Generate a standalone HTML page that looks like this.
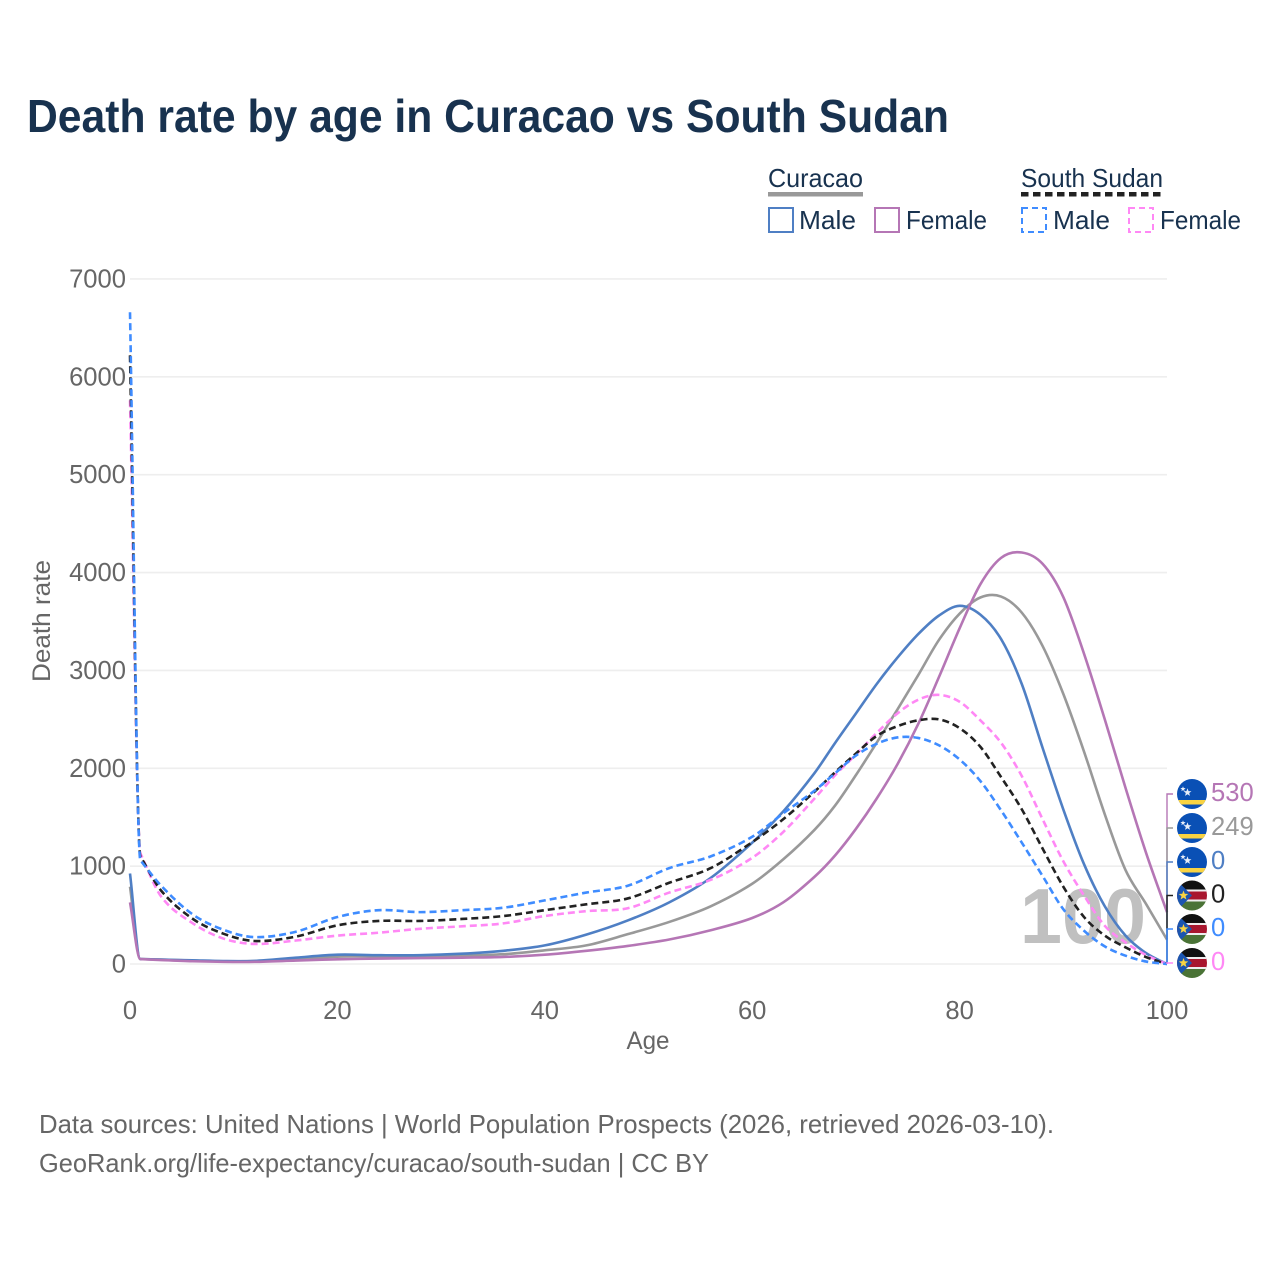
<!DOCTYPE html>
<html lang="en">
<head>
<meta charset="utf-8">
<title>Death rate by age in Curacao vs South Sudan</title>
<style>
html,body{margin:0;padding:0;background:#fff;}
svg{display:block;font-family:"Liberation Sans",sans-serif;}
</style>
</head>
<body>
<svg id="chart" xmlns="http://www.w3.org/2000/svg" width="1280" height="1280" viewBox="0 0 1280 1280">
  <defs>
    <clipPath id="flag-clip"><circle cx="0" cy="0" r="15"/></clipPath>
  </defs>
  <rect x="0" y="0" width="1280" height="1280" fill="#fff"/>
  <text x="27" y="132" font-size="46" font-weight="700" fill="#18324f" textLength="922" lengthAdjust="spacingAndGlyphs">Death rate by age in Curacao vs South Sudan</text>

  <g font-size="26" fill="#18324f">
    <text x="768" y="187" textLength="95" lengthAdjust="spacingAndGlyphs">Curacao</text>
    <rect x="768" y="192" width="95" height="4.5" fill="#999"/>
    <text x="1021" y="187" textLength="142" lengthAdjust="spacingAndGlyphs">South Sudan</text>
    <line x1="1021" y1="194.2" x2="1163" y2="194.2" stroke="#222" stroke-width="4.5" stroke-dasharray="7.5 4.5"/>
    <rect x="769" y="208" width="24" height="24" fill="none" stroke="#4f7fc4" stroke-width="2"/>
    <text x="799" y="229" textLength="57" lengthAdjust="spacingAndGlyphs">Male</text>
    <rect x="875" y="208" width="24" height="24" fill="none" stroke="#b576b5" stroke-width="2"/>
    <text x="906" y="229" textLength="81" lengthAdjust="spacingAndGlyphs">Female</text>
    <rect x="1022" y="208" width="24" height="24" fill="none" stroke="#3f8cff" stroke-width="2" stroke-dasharray="6 4"/>
    <text x="1053" y="229" textLength="57" lengthAdjust="spacingAndGlyphs">Male</text>
    <rect x="1129" y="208" width="24" height="24" fill="none" stroke="#ff88f5" stroke-width="2" stroke-dasharray="6 4"/>
    <text x="1160" y="229" textLength="81" lengthAdjust="spacingAndGlyphs">Female</text>
  </g>

  <g id="grid"></g>
  <g id="yticks"></g>
  <g id="xticks"></g>
  <text transform="translate(50 621) rotate(-90)" text-anchor="middle" font-size="25" fill="#666" textLength="122" lengthAdjust="spacingAndGlyphs">Death rate</text>
  <text x="648" y="1049" text-anchor="middle" font-size="25" fill="#666" textLength="43" lengthAdjust="spacingAndGlyphs">Age</text>
  <text id="year-watermark" x="1083" y="943" text-anchor="middle" font-size="78" font-weight="700" fill="#c0c0c0" textLength="126" lengthAdjust="spacingAndGlyphs">100</text>
  <g id="series"></g>
  <g id="endlabels"></g>

  <text x="39" y="1133" font-size="26" fill="#666" textLength="1015" lengthAdjust="spacingAndGlyphs">Data sources: United Nations | World Population Prospects (2026, retrieved 2026-03-10).</text>
  <text x="39" y="1172" font-size="26" fill="#666" textLength="670" lengthAdjust="spacingAndGlyphs">GeoRank.org/life-expectancy/curacao/south-sudan | CC BY</text>
</svg>
<script>
var ages = [0,1,3,6,9,12,16,20,24,28,32,36,40,44,48,52,56,60,63,66,68,70,72,74,76,78,80,82,84,86,88,90,92,94,96,98,100];
var curacaoMale = [925,50,45,38,30,32,65,95,90,90,105,135,190,300,445,630,880,1240,1560,1950,2260,2560,2860,3130,3370,3560,3660,3570,3320,2860,2210,1580,1020,590,290,110,0];
var curacaoFemale = [630,50,40,28,22,22,35,48,55,60,65,72,95,135,185,250,345,470,630,890,1110,1380,1690,2040,2450,2930,3430,3880,4150,4205,4090,3750,3170,2500,1800,1130,530];
var curacaoTotal = [790,50,45,35,28,30,50,75,80,78,85,100,140,190,305,430,590,820,1070,1370,1620,1930,2260,2600,2950,3310,3580,3745,3755,3590,3250,2760,2170,1530,960,610,249];
var sudanMale = [6660,1060,800,510,350,275,330,480,550,530,550,575,650,730,800,980,1100,1300,1540,1770,1950,2130,2250,2315,2310,2235,2090,1870,1570,1240,900,560,340,180,85,25,0];
var sudanFemale = [5760,1130,690,420,260,205,240,290,320,360,385,415,490,540,570,730,860,1085,1350,1690,1930,2140,2360,2560,2700,2750,2680,2490,2260,1920,1480,1050,700,390,220,90,0];
var sudanTotal = [6220,1100,750,465,310,235,280,395,440,440,460,490,550,610,670,830,980,1245,1480,1760,1960,2150,2330,2430,2490,2500,2410,2220,1910,1580,1180,790,480,290,170,70,0];
var yTickValues = [0,1000,2000,3000,4000,5000,6000,7000];
var xTickValues = [0,20,40,60,80,100];

var NS = 'http://www.w3.org/2000/svg';
function xScale(a){ return 130 + a * 10.37; }
function yScale(v){ return 964 - v * 0.09786; }
function mk(tag, parent, attrs){
  var e = document.createElementNS(NS, tag);
  for (var k in attrs) e.setAttribute(k, attrs[k]);
  parent.appendChild(e);
  return e;
}
function smoothPath(xs, ys){
  var n = xs.length, d = [], m = [], i;
  for (i = 0; i < n - 1; i++) d.push((ys[i+1] - ys[i]) / (xs[i+1] - xs[i]));
  m[0] = d[0]; m[1] = d[1]; m[n-1] = d[n-2];
  for (i = 2; i < n - 1; i++) m[i] = (ys[i+1] - ys[i-1]) / (xs[i+1] - xs[i-1]);
  var p = 'M' + xs[0].toFixed(2) + ' ' + ys[0].toFixed(2);
  for (i = 0; i < n - 1; i++) {
    var h = (xs[i+1] - xs[i]) / 3;
    p += 'C' + (xs[i] + h).toFixed(2) + ' ' + (ys[i] + m[i] * h).toFixed(2) + ' ' +
         (xs[i+1] - h).toFixed(2) + ' ' + (ys[i+1] - m[i+1] * h).toFixed(2) + ' ' +
         xs[i+1].toFixed(2) + ' ' + ys[i+1].toFixed(2);
  }
  return p;
}

var gridG = document.getElementById('grid');
var yG = document.getElementById('yticks');
yTickValues.forEach(function(v){
  var gl = mk('line', gridG, {x1:130, x2:1167, y1:yScale(v), y2:yScale(v), stroke:'#eeeeee', 'stroke-width':1.6});
  
  
  var t = mk('text', yG, {x:126, y:yScale(v) + 8.5, 'text-anchor':'end', 'font-size':25.6, fill:'#666'});
  
  
  t.textContent = v;
});
var xG = document.getElementById('xticks');
xTickValues.forEach(function(v){
  var t = mk('text', xG, {x:xScale(v), y:1019, 'text-anchor':'middle', 'font-size':25.6, fill:'#666'});
  
  
  t.textContent = v;
});

var seriesList = [
  {key:'curacao-female', values:curacaoFemale, color:'#b576b5', dash:null, country:'curacao', slot:794},
  {key:'curacao-total', values:curacaoTotal, color:'#999999', dash:null, country:'curacao', slot:828},
  {key:'curacao-male', values:curacaoMale, color:'#4f7fc4', dash:null, country:'curacao', slot:862},
  {key:'south-sudan-total', values:sudanTotal, color:'#222222', dash:'7 4', country:'sudan', slot:895.5},
  {key:'south-sudan-male', values:sudanMale, color:'#3f8cff', dash:'7 4', country:'sudan', slot:929},
  {key:'south-sudan-female', values:sudanFemale, color:'#ff88f5', dash:'7 4', country:'sudan', slot:963}
];
var drawOrder = [1,2,0,5,3,4];
var seriesG = document.getElementById('series');
var xsPx = ages.map(xScale);
drawOrder.forEach(function(i){
  var s = seriesList[i];
  var ln = mk('path', seriesG, {d:smoothPath(xsPx, s.values.map(yScale)), fill:'none', stroke:s.color, 'stroke-width':2.6, 'stroke-linejoin':'round'});
  if (s.dash) ln.setAttribute('stroke-dasharray', s.dash);
  
  
});

function starPoints(cx, cy, r){
  var pts = [];
  for (var i = 0; i < 10; i++) {
    var a = -Math.PI / 2 + i * Math.PI / 5, rr = i % 2 ? r * 0.42 : r;
    pts.push((cx + rr * Math.cos(a)).toFixed(2) + ',' + (cy + rr * Math.sin(a)).toFixed(2));
  }
  return pts.join(' ');
}
function drawFlag(parent, country, y){
  var g = mk('g', parent, {transform:'translate(1192 ' + y + ')', 'clip-path':'url(#flag-clip)'});
  
  
  if (country === 'curacao') {
    mk('rect', g, {x:-15, y:-15, width:30, height:30, fill:'#0a50b5'});
    mk('rect', g, {x:-15, y:6, width:30, height:4.5, fill:'#f9d342'});
    mk('polygon', g, {points:starPoints(-4.5, -1.5, 4.2), fill:'#e8eef8'});
    mk('polygon', g, {points:starPoints(-9, -5, 2.8), fill:'#e8eef8'});
  } else {
    mk('rect', g, {x:-15, y:-15, width:30, height:10, fill:'#111'});
    mk('rect', g, {x:-15, y:-5, width:30, height:10, fill:'#a8162e'});
    mk('rect', g, {x:-15, y:5, width:30, height:10, fill:'#4a7336'});
    mk('rect', g, {x:-15, y:-6, width:30, height:2, fill:'#eee'});
    mk('rect', g, {x:-15, y:4, width:30, height:2, fill:'#eee'});
    mk('polygon', g, {points:'-15,-15 0,0 -15,15', fill:'#1c55b0'});
    mk('polygon', g, {points:starPoints(-8.5, 0, 5), fill:'#f9d342'});
  }
}
var endG = document.getElementById('endlabels');
seriesList.forEach(function(s){
  var last = s.values[s.values.length - 1];
  var c = mk('path', endG, {d:'M1167 ' + yScale(last) + 'L1167 ' + s.slot + 'L1173 ' + s.slot, fill:'none', stroke:s.color, 'stroke-width':1.4});
  
  
  drawFlag(endG, s.country, s.slot);
  var t = mk('text', endG, {x:1211, y:s.slot + 7, 'font-size':25.6, fill:s.color});
  
  
  t.textContent = last;
});
</script>
</body>
</html>
